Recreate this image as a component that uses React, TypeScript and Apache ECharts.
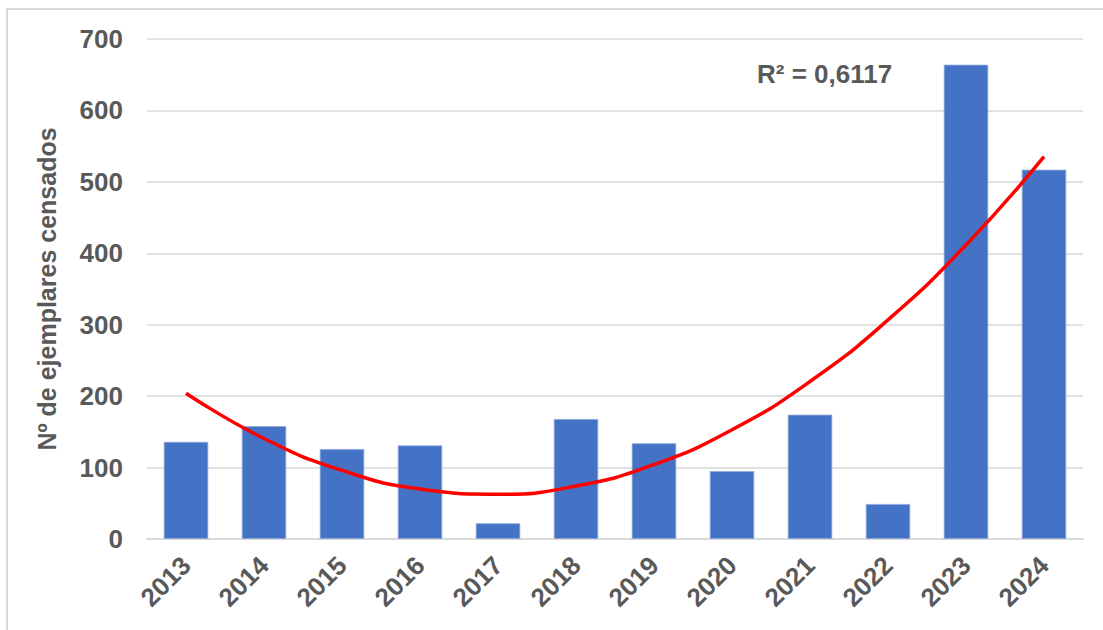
import React, { useEffect, useRef } from "react";
import * as echarts from "echarts";

const years = ["2013", "2014", "2015", "2016", "2017", "2018", "2019", "2020", "2021", "2022", "2023", "2024"];
const counts = [136, 158, 126, 131, 22, 168, 134, 95, 174, 49, 664, 517];
const trendValues = [204.1, 140.7, 96.0, 70.0, 62.7, 74.1, 104.2, 153.0, 220.5, 306.8, 411.7, 535.3];
const yTicks = { min: 0, max: 700, interval: 100 };
const yTitle = "Nº de ejemplares censados";
const r2Label = "R² = 0,6117";

const FONT = "'Liberation Sans', Arial, sans-serif";
const TXT = "#595959";

export default function App() {
  const ref = useRef<HTMLDivElement>(null);
  useEffect(() => {
    if (!ref.current) return;
    const chart = echarts.init(ref.current, undefined, { renderer: "svg" });
    chart.setOption({
      animation: false,
      backgroundColor: "#ffffff",
      grid: { left: 147, right: 20, top: 39, bottom: 91, containLabel: false },
      graphic: [
        {
          type: "rect",
          shape: { x: 7, y: 9, width: 1200, height: 700 },
          style: { fill: "none", stroke: "#d9d9d9", lineWidth: 2 },
          silent: true,
        },
        {
          type: "text",
          x: 757,
          y: 74,
          style: {
            text: r2Label,
            fill: TXT,
            font: `bold 26px ${FONT}`,
            verticalAlign: "middle",
            align: "left",
          },
        },
      ],
      xAxis: {
        type: "category",
        data: years,
        axisLine: { show: true, lineStyle: { color: "#d9d9d9", width: 2 } },
        axisTick: { show: false },
        axisLabel: {
          rotate: 45,
          margin: 22,
          color: TXT,
          fontSize: 26,
          fontWeight: "bold",
          fontFamily: FONT,
          interval: 0,
        },
      },
      yAxis: {
        type: "value",
        min: yTicks.min,
        max: yTicks.max,
        interval: yTicks.interval,
        name: yTitle,
        nameLocation: "middle",
        nameRotate: 90,
        nameGap: 88,
        nameTextStyle: { color: TXT, fontSize: 25, fontWeight: "bold", fontFamily: FONT },
        axisLine: { show: false },
        axisTick: { show: false },
        splitLine: { lineStyle: { color: "#d9d9d9", width: 1.5 } },
        axisLabel: {
          margin: 24,
          color: TXT,
          fontSize: 26,
          fontWeight: "bold",
          fontFamily: FONT,
        },
      },
      series: [
        {
          type: "bar",
          data: counts,
          barCategoryGap: "43%",
          itemStyle: { color: "#4472C4", borderColor: "#8fa9dc", borderWidth: 0.8 },
        },
        {
          type: "line",
          data: trendValues,
          smooth: true,
          symbol: "none",
          lineStyle: { color: "#ff0000", width: 3.5 },
          z: 5,
        },
      ],
    });
    return () => chart.dispose();
  }, []);
  return (
    <div
      ref={ref}
      style={{ position: "fixed", left: 0, top: 0, width: 1103, height: 630, background: "#fff" }}
    />
  );
}
